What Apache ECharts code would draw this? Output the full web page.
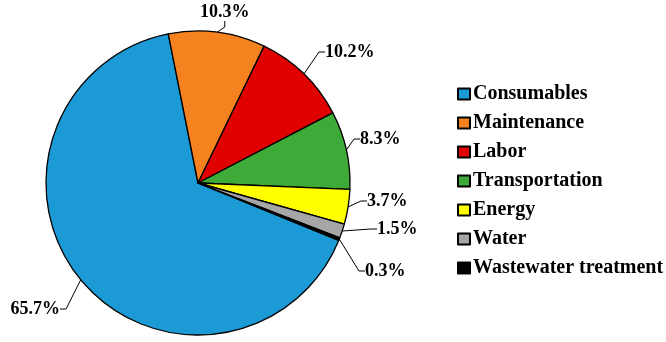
<!DOCTYPE html>
<html>
<head>
<meta charset="utf-8">
<script src="https://cdn.jsdelivr.net/npm/echarts@6/dist/echarts.min.js"></script>
<style>
  html, body { margin: 0; padding: 0; background: #fff; }
  #chart { width: 666px; height: 342px; }
</style>
</head>
<body>
<div id="chart"></div>
<script>
// cost shares (%)
const categories = ['Consumables', 'Maintenance', 'Labor', 'Transportation', 'Energy', 'Water', 'Wastewater treatment']
const shares = [65.7, 10.3, 10.2, 8.3, 3.7, 1.5, 0.3]
const colors = ['#1b9ad6', '#f6821f', '#e00000', '#3eab38', '#ffff00', '#a6a6a6', '#000000']

const chart = echarts.init(document.getElementById('chart'), null, { renderer: 'canvas' })

const font = '"Liberation Serif", "Times New Roman", serif'

// where the percentage labels sit (like the excel layout)
const labelSpots = [
  { x: 60, y: 309, align: 'right' },
  { x: 200, y: 12, align: 'left' },
  { x: 325, y: 52, align: 'left' },
  { x: 360, y: 139, align: 'left' },
  { x: 367, y: 201, align: 'left' },
  { x: 377, y: 229, align: 'left' },
  { x: 365, y: 271, align: 'left' }
]

const option = {
  animation: false,
  legend: {
    orient: 'vertical',
    left: 452,
    top: 79,
    icon: 'rect',
    itemWidth: 12,
    itemHeight: 11,
    itemGap: 9,
    textStyle: {
      fontFamily: font,
      fontWeight: 'bold',
      fontSize: 20,
      color: '#000',
      padding: [0, 0, 0, -2]
    },
    data: categories
  },
  series: [
    {
      type: 'pie',
      center: [198, 183],
      radius: 152,
      startAngle: -22.2,
      clockwise: true,
      avoidLabelOverlap: false,
      itemStyle: {
        borderColor: '#000',
        borderWidth: 1.3
      },
      label: {
        show: true,
        position: 'outside',
        formatter: (p) => p.value.toFixed(1) + '%',
        fontFamily: font,
        fontWeight: 'bold',
        fontSize: 18,
        color: '#000'
      },
      labelLine: {
        show: true,
        length: 8,
        length2: 6,
        lineStyle: { color: '#000', width: 1 }
      },
      labelLayout: (params) => {
        const s = labelSpots[params.dataIndex]
        return { x: s.x, y: s.y, align: s.align, verticalAlign: 'middle' }
      },
      emphasis: { disabled: true },
      data: categories.map((name, i) => ({
        name: name,
        value: shares[i],
        itemStyle: { color: colors[i] }
      }))
    }
  ]
}

chart.setOption(option)
</script>
</body>
</html>
